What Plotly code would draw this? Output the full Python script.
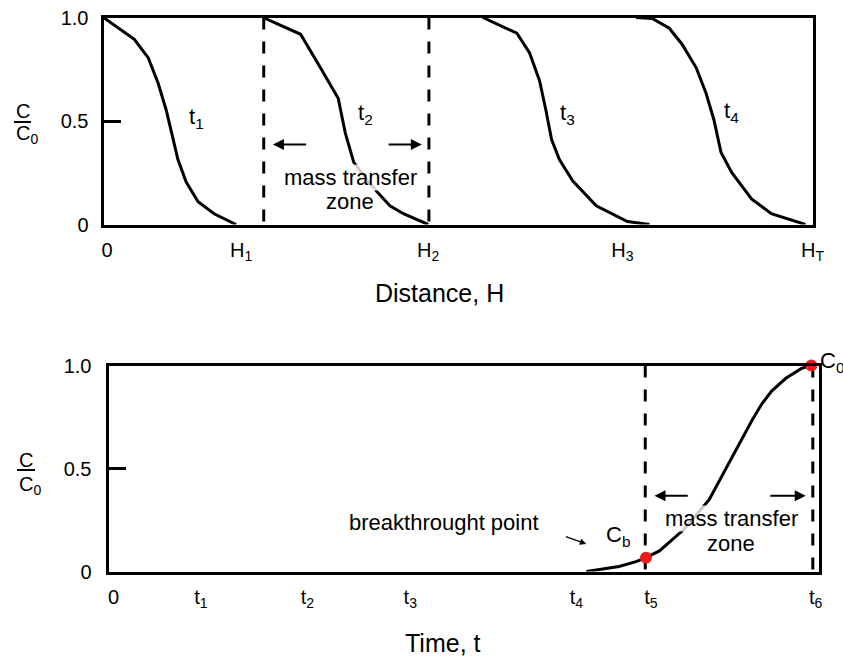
import plotly.graph_objects as go

FONT = "Liberation Sans, Arial, sans-serif"

# ---------------- data: top panel (distance profiles) ----------------
t1_x = [0, 4.35, 6.32, 7.72, 8.85, 9.55, 10.5, 11.66, 13.34, 15.6, 18.7]
t1_y = [1, 0.895, 0.805, 0.681, 0.552, 0.457, 0.314, 0.205, 0.110, 0.052, 0]
t2_x = [22.5, 27.8, 30.6, 33.1, 34.1, 35.3, 37.6, 40.4, 42.3, 45.8]
t2_y = [1, 0.919, 0.757, 0.610, 0.443, 0.300, 0.195, 0.090, 0.052, 0]
t3_x = [53.5, 58.3, 60.1, 61.5, 62.4, 63.2, 64.3, 66.2, 69.5, 73.9, 77.0]
t3_y = [1, 0.924, 0.829, 0.695, 0.552, 0.410, 0.314, 0.210, 0.090, 0.014, 0]
t4_x = [75.1, 77.4, 79.8, 81.6, 83.6, 85.0, 86.1, 87.1, 88.6, 91.4, 94.2, 99.0]
t4_y = [1, 0.995, 0.948, 0.871, 0.757, 0.633, 0.505, 0.348, 0.252, 0.124, 0.052, 0]
top_dash_x = [22.6, 45.9]
top_tick_vals = [0.5, 19.4, 45.8, 73.2, 100]
top_tick_text = ["0", "H<sub>1</sub>", "H<sub>2</sub>", "H<sub>3</sub>", "H<sub>T</sub>"]
top_curve_labels = ["t<sub>1</sub>", "t<sub>2</sub>", "t<sub>3</sub>", "t<sub>4</sub>"]
top_curve_label_x = [13.1, 37.0, 65.4, 88.6]
top_curve_label_y = [0.514, 0.533, 0.533, 0.543]

# ---------------- data: bottom panel (breakthrough curve) ----------------
bt_x = [67.3, 71.9, 74.3, 75.7, 77.6, 81.1, 84.6, 90.6, 92.0, 93.4, 95.4, 97.6, 99.0]
bt_y = [0, 0.024, 0.048, 0.067, 0.100, 0.206, 0.349, 0.732, 0.813, 0.876, 0.938, 0.986, 1.0]
pts_x = [75.7, 99.0]
pts_y = [0.067, 1.0]
bot_dash_x = [75.6, 99.2]
bot_tick_vals = [0.7, 13.0, 28.0, 42.5, 65.9, 76.4, 99.6]
bot_tick_text = ["0", "t<sub>1</sub>", "t<sub>2</sub>", "t<sub>3</sub>",
                 "t<sub>4</sub>", "t<sub>5</sub>", "t<sub>6</sub>"]

y_tick_vals = [0, 0.5, 1.0]
y_tick_text = ["0", "0.5", "1.0"]

W, H = 843, 659
def px_x(p):
    return p / W
def px_y(p):
    return 1 - p / H

fig = go.Figure()
line = dict(color="black", width=3)

for xs, ys in [(t1_x, t1_y), (t2_x, t2_y), (t3_x, t3_y), (t4_x, t4_y)]:
    fig.add_trace(go.Scatter(x=xs, y=ys, mode="lines", line=line, xaxis="x", yaxis="y",
                             cliponaxis=False, showlegend=False, hoverinfo="skip"))
for dx in top_dash_x:
    fig.add_trace(go.Scatter(x=[dx, dx], y=[1, 0], mode="lines",
                             line=dict(color="black", width=3, dash="12px,12px"),
                             xaxis="x", yaxis="y", showlegend=False, hoverinfo="skip"))

fig.add_trace(go.Scatter(x=bt_x, y=bt_y, mode="lines", line=line, xaxis="x2", yaxis="y2",
                         cliponaxis=False, showlegend=False, hoverinfo="skip"))
for dx in bot_dash_x:
    fig.add_trace(go.Scatter(x=[dx, dx], y=[1, 0], mode="lines",
                             line=dict(color="black", width=3, dash="12px,12px"),
                             xaxis="x2", yaxis="y2", showlegend=False, hoverinfo="skip"))
fig.add_trace(go.Scatter(x=pts_x, y=pts_y, mode="markers",
                         marker=dict(color="#ee1b1b", size=12), xaxis="x2", yaxis="y2",
                         cliponaxis=False, showlegend=False, hoverinfo="skip"))

axis_common = dict(showline=True, mirror=True, linecolor="black", linewidth=3,
                   showgrid=False, zeroline=False, fixedrange=True, automargin=False,
                   tickfont=dict(family=FONT, size=20, color="black"))

fig.update_layout(
    width=W, height=H, margin=dict(l=0, r=0, t=0, b=0, pad=0, autoexpand=False),
    showlegend=False,
    paper_bgcolor="white", plot_bgcolor="white",
    xaxis=dict(axis_common, domain=[px_x(103.5), px_x(812.5)], range=[0, 100], anchor="y",
               tickmode="array", tickvals=top_tick_vals, ticktext=top_tick_text, ticks="",
               ticklabelstandoff=5),
    yaxis=dict(axis_common, domain=[px_y(224.5), px_y(17.5)], range=[0, 1], anchor="x",
               tickmode="array", tickvals=y_tick_vals, ticktext=y_tick_text,
               ticks="inside", ticklen=17, tickwidth=3, tickcolor="black",
               ticklabelstandoff=8),
    xaxis2=dict(axis_common, domain=[px_x(108.5), px_x(818.5)], range=[0, 100], anchor="y2",
                tickmode="array", tickvals=bot_tick_vals, ticktext=bot_tick_text, ticks="",
                ticklabelstandoff=5),
    yaxis2=dict(axis_common, domain=[px_y(571.5), px_y(365.5)], range=[0, 1], anchor="x2",
                tickmode="array", tickvals=y_tick_vals, ticktext=y_tick_text,
                ticks="inside", ticklen=17, tickwidth=3, tickcolor="black",
                ticklabelstandoff=10),
)

ann = []
tf = dict(family=FONT, size=20, color="black")
lf = dict(family=FONT, size=22, color="black")
bigf = dict(family=FONT, size=22, color="black")
C = dict(xanchor="center", yanchor="middle", showarrow=False)
for lab, lx, ly in zip(top_curve_labels, top_curve_label_x, top_curve_label_y):
    ann.append(dict(C, x=lx, y=ly, xref="x", yref="y", text=lab, font=lf))

# mass transfer zone labels (semi-opaque background fades the curve behind)
ann.append(dict(C, x=34.8, y=0.229, xref="x", yref="y", text="mass transfer",
                font=bigf, bgcolor="rgba(255,255,255,0.8)", borderpad=0))
ann.append(dict(C, x=34.8, y=0.110, xref="x", yref="y", text="zone",
                font=bigf, bgcolor="rgba(255,255,255,0.8)", borderpad=0))
ann.append(dict(C, x=87.7, y=0.258, xref="x2", yref="y2", text="mass transfer",
                font=bigf, bgcolor="rgba(255,255,255,0.8)", borderpad=0))
ann.append(dict(C, x=87.7, y=0.134, xref="x2", yref="y2", text="zone",
                font=bigf, bgcolor="rgba(255,255,255,0.8)", borderpad=0))

# arrows
arrow = dict(showarrow=True, arrowhead=2, arrowsize=1.1, arrowwidth=2, arrowcolor="black", text="")
ann.append(dict(arrow, x=23.9, y=0.386, ax=28.8, ay=0.386, xref="x", yref="y", axref="x", ayref="y"))
ann.append(dict(arrow, x=44.9, y=0.386, ax=40.0, ay=0.386, xref="x", yref="y", axref="x", ayref="y"))
ann.append(dict(arrow, x=76.9, y=0.368, ax=81.8, ay=0.368, xref="x2", yref="y2", axref="x2", ayref="y2"))
ann.append(dict(arrow, x=98.2, y=0.368, ax=93.0, ay=0.368, xref="x2", yref="y2", axref="x2", ayref="y2"))
ann.append(dict(showarrow=True, arrowhead=2, arrowsize=1, arrowwidth=1.3, arrowcolor="black", text="",
                x=67.3, y=0.134, ax=64.2, ay=0.172, xref="x2", yref="y2", axref="x2", ayref="y2"))

ann.append(dict(C, x=47.2, y=0.239, xref="x2", yref="y2", text="breakthrought point", font=bigf))
ann.append(dict(C, x=71.8, y=0.172, xref="x2", yref="y2", text="C<sub>b</sub>", font=lf))
ann.append(dict(x=100.0, y=1.0, xref="x2", yref="y2", text="C<sub>0</sub>", xanchor="left",
                yanchor="middle", xshift=-1, yshift=4, showarrow=False, font=lf))

# axis titles
titf = dict(family=FONT, size=25, color="black")
ann.append(dict(C, x=px_x(439), y=px_y(293), xref="paper", yref="paper", text="Distance, H",
                font=titf))
ann.append(dict(C, x=px_x(443), y=px_y(643), xref="paper", yref="paper", text="Time, t",
                font=titf))

# C/C0 y labels
shapes = []
for cy, ly, c0y, x0, x1, cx in [(111, 122, 134, 14, 31, 22.5), (460, 470, 485, 17, 35, 26)]:
    ann.append(dict(C, x=px_x(cx), y=px_y(cy), xref="paper", yref="paper", text="C", font=tf))
    ann.append(dict(x=px_x(x0), y=px_y(c0y), xref="paper", yref="paper", text="C<sub>0</sub>",
                    xanchor="left", yanchor="middle", showarrow=False, font=tf))
    shapes.append(dict(type="line", xref="paper", yref="paper", x0=px_x(x0), x1=px_x(x1),
                       y0=px_y(ly), y1=px_y(ly), line=dict(color="black", width=2)))

fig.update_layout(annotations=ann, shapes=shapes)
fig.write_html("out.html")
